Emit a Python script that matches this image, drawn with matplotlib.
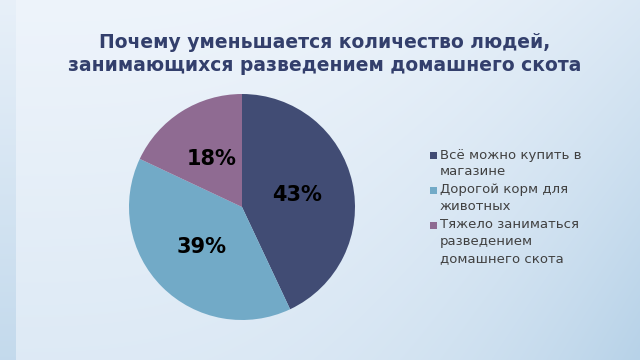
import numpy as np
from matplotlib import pyplot as plt
from matplotlib.patches import Rectangle

# data
labels = ["Всё можно купить в\nмагазине",
          "Дорогой корм для\nживотных",
          "Тяжело заниматься\nразведением\nдомашнего скота"]
shares = [43, 39, 18]
colors = ["#414c74", "#72aac7", "#8f6b92"]

title = "Почему уменьшается количество людей,\nзанимающихся разведением домашнего скота"

W, H = 640, 360
fig = plt.figure(figsize=(6.4, 3.6), dpi=100)

# soft blue background: near white top left, bluer toward bottom right
bg = fig.add_axes([0, 0, 1, 1], zorder=-1)
gx, gy = np.meshgrid(np.linspace(0, 1, W), np.linspace(0, 1, H))
w = 0.3 * gy + 0.35 * gx**3 + 0.35 * gx**3 * gy
w[:, :16] += 0.12 + 0.35 * gy[:, :16]   # darker strip on the left edge
w = np.clip(w, 0, 1.3)
c0 = np.array([0xee, 0xf4, 0xfb]) / 255
c1 = np.array([0xb7, 0xd2, 0xe8]) / 255
img = np.clip(c0 + (c1 - c0) * w[..., None], 0, 1)
bg.imshow(img, aspect="auto", extent=[0, 1, 0, 1], origin="upper")
bg.axis("off")

fig.text(0.508, 0.85, title, ha="center", va="center", fontsize=13.5,
         fontweight="bold", color="#333f6c", linespacing=1.25)

# pie centred at (242, 207) px with radius ~113 px
cx, cy, r = 242, 207, 113
ax = fig.add_axes([(cx - r) / W, 1 - (cy + r) / H, 2 * r / W, 2 * r / H])
wedges, texts, autotexts = ax.pie(shares, colors=colors, startangle=90,
                                  counterclock=False, autopct="%d%%",
                                  pctdistance=0.5,
                                  wedgeprops=dict(linewidth=0))
for t in autotexts:
    t.set_fontsize(15)
    t.set_fontweight("bold")
    t.set_color("black")
ax.set_xlim(-1, 1)
ax.set_ylim(-1, 1)
ax.set_aspect("equal")

# legend: square marker beside first line of each wrapped label
y = 155
for lab, col in zip(labels, colors):
    lines = lab.split("\n")
    fig.patches.append(Rectangle(((429.5) / W, 1 - (y + 4) / H), 7 / W, 7 / H,
                                 transform=fig.transFigure,
                                 facecolor=col, edgecolor="none"))
    for ln in lines:
        fig.text(440 / W, 1 - y / H, ln, ha="left", va="center",
                 fontsize=9.5, color="#404040")
        y += 16.7
    y += 1.5

fig.savefig("out.png", dpi=100)
